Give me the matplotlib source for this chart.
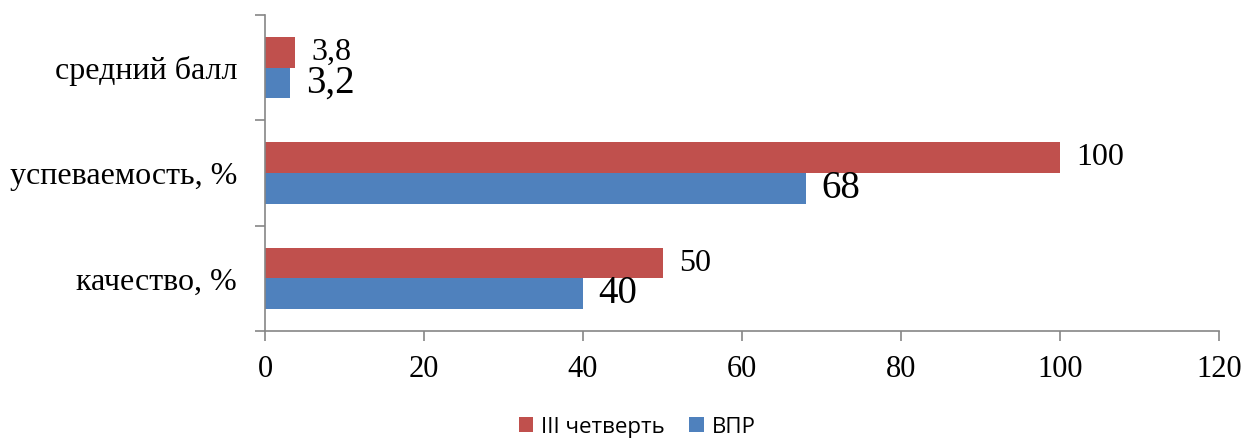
import numpy as np
import matplotlib
matplotlib.use('Agg')
import matplotlib.pyplot as plt
from matplotlib.ticker import FixedLocator

# data
categories = ['качество, %', 'успеваемость, %', 'средний балл']
q3_vals = [50, 100, 3.8]   # III четверть
vpr_vals = [40, 68, 3.2]   # ВПР
q3_labels = ['50', '100', '3,8']
vpr_labels = ['40', '68', '3,2']

RED = '#C0504D'
BLUE = '#4F81BD'
GRAY = '#868686'

plt.rcParams['font.family'] = ['Liberation Serif', 'DejaVu Serif']

fig = plt.figure(figsize=(12.48, 4.4), dpi=100)
ax = fig.add_axes([265/1248, 1 - 331/440, (1219-265)/1248, (331-15)/440])

y = np.arange(len(categories))
h = 0.29
b_q3 = ax.barh(y + h/2, q3_vals, height=h, color=RED, label='III четверть')
b_vpr = ax.barh(y - h/2, vpr_vals, height=h, color=BLUE, label='ВПР')

ax.bar_label(b_q3, labels=q3_labels, padding=12, fontsize=23)
ax.bar_label(b_vpr, labels=vpr_labels, padding=11, fontsize=28)

ax.set_xlim(0, 120)
ax.set_ylim(-0.5, 2.5)
ax.set_xticks(range(0, 121, 20))
ax.set_yticks(y)
ax.set_yticklabels(categories)
ax.yaxis.set_minor_locator(FixedLocator([-0.5, 0.5, 1.5, 2.5]))

ax.tick_params(axis='x', direction='out', length=7, width=1.2, color=GRAY,
               labelsize=22, pad=10)
ax.tick_params(axis='y', which='major', length=0, labelsize=23, pad=20)
ax.tick_params(axis='y', which='minor', direction='out', length=7, width=1.2, color=GRAY)

for s in ['top', 'right']:
    ax.spines[s].set_visible(False)
for s in ['left', 'bottom']:
    ax.spines[s].set_color(GRAY)
    ax.spines[s].set_linewidth(1.2)

fig.legend(loc='center', bbox_to_anchor=(637/1248, 1 - 427/440), ncol=2,
           frameon=False, prop={'family': 'Open Sans', 'size': 16},
           handlelength=0.65, handleheight=0.65, handletextpad=0.35, columnspacing=1.1)

fig.savefig('out.png', dpi=100)
